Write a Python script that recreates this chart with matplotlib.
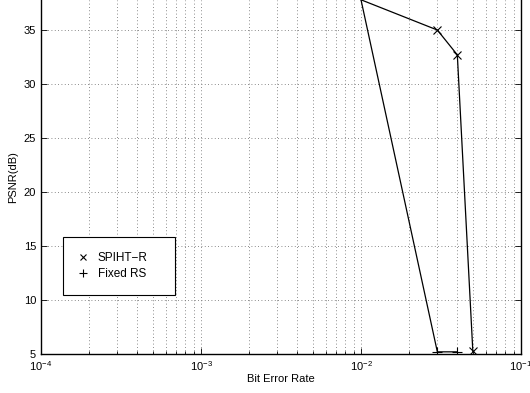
import matplotlib
matplotlib.use("Agg")
import matplotlib.pyplot as plt
from matplotlib.lines import Line2D
from matplotlib.ticker import LogLocator, NullFormatter

plt.rcParams['font.family'] = ['Liberation Sans', 'DejaVu Sans']
plt.rcParams['mathtext.fontset'] = 'custom'
plt.rcParams['mathtext.rm'] = 'Liberation Sans'
plt.rcParams['mathtext.it'] = 'Liberation Sans'

spiht_ber = [0.01, 0.03, 0.04, 0.05]
spiht_psnr = [37.8, 35.0, 32.7, 5.25]
fixed_ber = [0.01, 0.03, 0.04]
fixed_psnr = [37.8, 5.2, 5.2]
labels = ["SPIHT\u2212R", "Fixed RS"]

fig = plt.figure(figsize=(5.30, 3.93), dpi=100)
ax = fig.add_axes([41/530, 39/393, 480/530, 354/393])

ax.plot(spiht_ber, spiht_psnr, color='k', lw=0.9, marker='x', ms=5.5, mew=0.8,
        markevery=slice(1, None))
ax.plot(fixed_ber, fixed_psnr, color='k', lw=0.9, marker='+', ms=6.5, mew=0.8,
        markevery=slice(1, None))

ax.set_xscale('log')
ax.set_xlim(1e-4, 1e-1)
ax.set_ylim(5, 37.78)
ax.set_yticks([5, 10, 15, 20, 25, 30, 35])
ax.xaxis.set_major_locator(LogLocator(base=10, numticks=10))
ax.xaxis.set_minor_locator(LogLocator(base=10, subs=range(2, 10), numticks=10))
ax.xaxis.set_minor_formatter(NullFormatter())

ax.grid(True, which='major', axis='both', linestyle=(0, (1, 3)), color='#666666', lw=0.6)
ax.grid(True, which='minor', axis='x', linestyle=(0, (1, 3)), color='#666666', lw=0.6)

ax.tick_params(which='both', direction='in', top=False, right=True, labelsize=8, width=0.6)
ax.tick_params(which='major', length=4)
ax.tick_params(which='minor', length=2)
ax.spines['top'].set_visible(False)
for s in ['left', 'right', 'bottom']:
    ax.spines[s].set_linewidth(1.0)

ax.set_xlabel('Bit Error Rate', fontsize=8, labelpad=1)
ax.set_ylabel('PSNR(dB)', fontsize=8, labelpad=4)

handles = [Line2D([], [], color='k', marker='x', ls='none', ms=5, mew=0.8),
           Line2D([], [], color='k', marker='+', ls='none', ms=6, mew=0.8)]
leg = ax.legend(handles, labels, loc='lower left', bbox_to_anchor=(0.046, 0.167, 0.233, 0.155),
                mode='expand', borderaxespad=0, fontsize=8.5, fancybox=False, framealpha=1,
                edgecolor='k', handlelength=0.8, handletextpad=0.9,
                borderpad=1.25, labelspacing=0.35)
leg.get_frame().set_linewidth(0.8)

fig.savefig('out.png', dpi=100)
